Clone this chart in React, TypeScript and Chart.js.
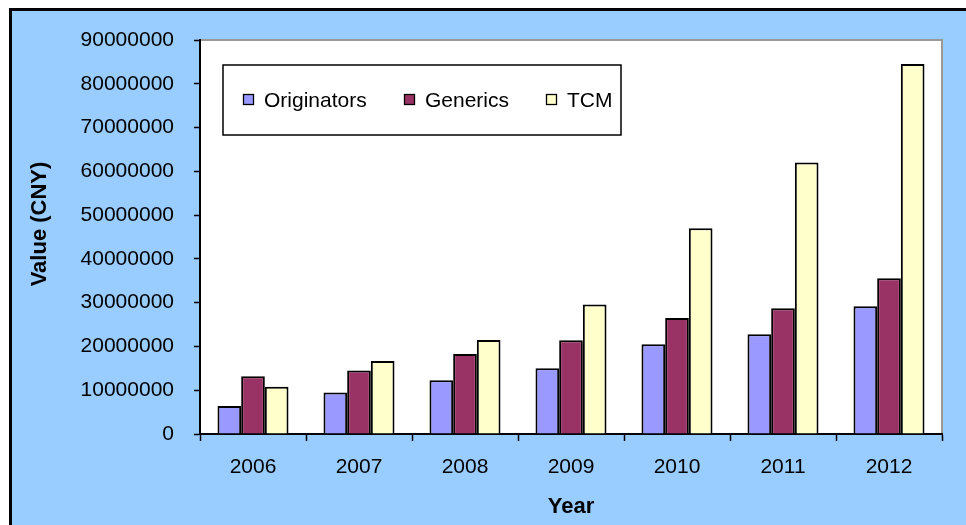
import React, { useEffect, useRef } from "react";
import { Chart, registerables } from "chart.js";

Chart.register(...registerables);

const years = ["2006", "2007", "2008", "2009", "2010", "2011", "2012"];
const originators = [6400000, 9500000, 12300000, 15000000, 20500000, 22800000, 29200000];
const generics = [13200000, 14500000, 18300000, 21400000, 26500000, 28700000, 35600000];
const tcm = [10800000, 16700000, 21500000, 29600000, 47000000, 62000000, 84500000];
const seriesNames = ["Originators", "Generics", "TCM"];
const seriesColors = ["#9999FF", "#993366", "#FFFFCC"];
const yTitle = "Value (CNY)";
const xTitle = "Year";

const FONT = "'Liberation Sans', Arial, Helvetica, sans-serif";

const decorPlugin = {
  id: "decor",
  beforeDraw(chart: any) {
    const { ctx, chartArea } = chart;
    const W = chart.width;
    const H = chart.height;
    ctx.save();
    ctx.fillStyle = "#FFFFFF";
    ctx.fillRect(0, 0, W, H);
    ctx.fillStyle = "#99CCFF";
    ctx.fillRect(10, 10, W, H);
    ctx.strokeStyle = "#000000";
    ctx.lineWidth = 3;
    ctx.beginPath();
    ctx.moveTo(10.5, H + 5);
    ctx.lineTo(10.5, 9.5);
    ctx.lineTo(W + 5, 9.5);
    ctx.stroke();
    ctx.fillStyle = "#FFFFFF";
    ctx.fillRect(chartArea.left, chartArea.top, chartArea.right - chartArea.left, chartArea.bottom - chartArea.top);
    ctx.strokeStyle = "#999999";
    ctx.lineWidth = 2;
    ctx.beginPath();
    ctx.moveTo(chartArea.left, chartArea.top);
    ctx.lineTo(chartArea.right, chartArea.top);
    ctx.lineTo(chartArea.right, chartArea.bottom);
    ctx.stroke();
    ctx.restore();
  },
  afterDraw(chart: any) {
    const { ctx, chartArea } = chart;
    ctx.save();
    ctx.fillStyle = "#000000";
    ctx.font = "bold 22px " + FONT;
    ctx.textAlign = "center";
    ctx.textBaseline = "middle";
    ctx.fillText(xTitle, (chartArea.left + chartArea.right) / 2, 507);
    ctx.translate(40, 224);
    ctx.rotate(-Math.PI / 2);
    ctx.fillText(yTitle, 0, 0);
    ctx.restore();

    ctx.save();
    const bx = 223, by = 65, bw = 398, bh = 70;
    ctx.fillStyle = "#FFFFFF";
    ctx.fillRect(bx, by, bw, bh);
    ctx.strokeStyle = "#000000";
    ctx.lineWidth = 1.5;
    ctx.strokeRect(bx, by, bw, bh);
    const itemX = [243, 404, 546];
    const cy = 100;
    ctx.font = "21px " + FONT;
    ctx.textAlign = "left";
    ctx.textBaseline = "middle";
    chart.data.datasets.forEach((ds: any, i: number) => {
      ctx.fillStyle = ds.backgroundColor;
      ctx.fillRect(itemX[i] + 0.5, cy - 5.5, 10, 10);
      ctx.strokeStyle = "#000000";
      ctx.lineWidth = 1.3;
      ctx.strokeRect(itemX[i] + 0.5, cy - 5.5, 10, 10);
      ctx.fillStyle = "#000000";
      ctx.fillText(ds.label, itemX[i] + 21, cy + 1);
    });
    ctx.restore();
  },
};

export default function App() {
  const ref = useRef<HTMLCanvasElement | null>(null);
  useEffect(() => {
    if (!ref.current) return;
    const data = [originators, generics, tcm];
    const chart = new Chart(ref.current, {
      type: "bar",
      data: {
        labels: years,
        datasets: seriesNames.map((name, i) => ({
          label: name,
          data: data[i],
          backgroundColor: seriesColors[i],
          borderColor: "#000000",
          borderWidth: 2,
          categoryPercentage: 0.67,
          barPercentage: 1.0,
        })),
      },
      options: {
        responsive: false,
        animation: false,
        devicePixelRatio: 1,
        layout: { padding: { top: 40, right: 24, left: 0, bottom: 0 } },
        plugins: {
          legend: { display: false },
          tooltip: { enabled: false },
          title: { display: false },
        },
        scales: {
          x: {
            afterFit: (s: any) => {
              s.height = 91;
            },
            grid: {
              display: true,
              drawOnChartArea: false,
              drawTicks: true,
              tickLength: 7,
              tickWidth: 1.5,
              tickColor: "#000000",
              offset: true,
            },
            border: { display: true, color: "#000000", width: 2 },
            ticks: {
              color: "#000000",
              font: { family: FONT, size: 21 },
              padding: 14,
            },
          },
          y: {
            min: 0,
            max: 90000000,
            afterFit: (s: any) => {
              s.width = 200;
            },
            grid: {
              display: true,
              drawOnChartArea: false,
              drawTicks: true,
              tickLength: 6,
              tickWidth: 1.5,
              tickColor: "#000000",
            },
            border: { display: true, color: "#000000", width: 2 },
            ticks: {
              stepSize: 10000000,
              color: "#000000",
              font: { family: FONT, size: 21 },
              padding: 20,
              callback: (v: any) => String(v),
            },
          },
        },
      },
      plugins: [decorPlugin],
    });
    return () => chart.destroy();
  }, []);
  return (
    <div style={{ position: "fixed", left: 0, top: 0, width: 966, height: 525 }}>
      <canvas ref={ref} width={966} height={525} style={{ width: 966, height: 525, display: "block" }} />
    </div>
  );
}
